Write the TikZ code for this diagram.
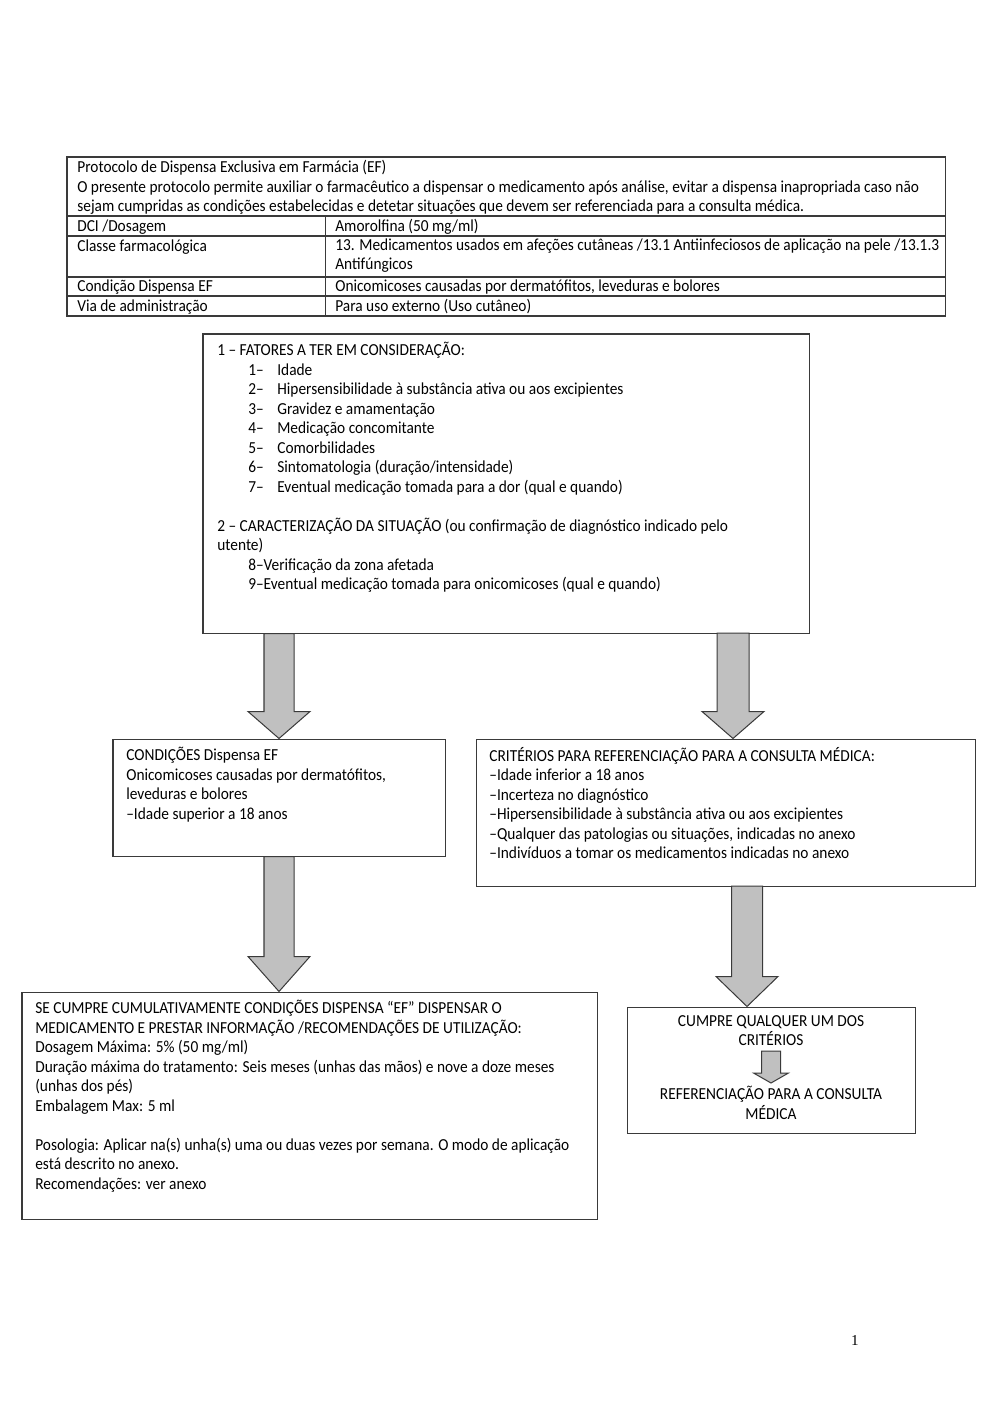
\documentclass[tikz,border=0pt]{standalone}
\usepackage{fontspec}
\setmainfont{Carlito}[FakeStretch=0.915]
\newfontfamily\pgnumfont{Liberation Serif}
\usetikzlibrary{calc,fit}
\definecolor{arrowgray}{HTML}{C0C0C0}
\definecolor{linegray}{HTML}{3A3A3A}

% indented numbered item inside the first box
\newcommand{\itm}[2]{\hspace*{18.4pt}\makebox[17.3pt][l]{#1}#2}
% block arrow: top point, tip point, half shaft, half head, head length
\newcommand{\blkarrow}[5]{%
  \draw[blk] ($(#1)+(-#3,0)$) -- ($(#1 |- #2)+(-#3,-#5)$) -- ($(#1 |- #2)+(-#4,-#5)$)
    -- (#1 |- #2) -- ($(#1 |- #2)+(#4,-#5)$) -- ($(#1 |- #2)+(#3,-#5)$) -- ($(#1)+(#3,0)$) -- cycle;}

\begin{document}
\begin{tikzpicture}[x=0.595pt, y=-0.595pt,
    font=\fontsize{10}{11.6}\selectfont,
    box/.style={draw=linegray, line width=0.6pt, inner sep=0pt},
    txt/.style={anchor=north west, inner sep=0pt, align=left, execute at begin node=\strut},
    ctxt/.style={anchor=north, inner sep=0pt, align=center, execute at begin node=\strut},
    blk/.style={draw=linegray, line width=0.6pt, fill=arrowgray, line join=miter}]
  \useasboundingbox (0,0) rectangle (1000,1415);

  % protocol table
  \node[box, fit={(67,157) (945,316)}] (tbl) {};
  \draw[linegray, line width=0.6pt] (67,216) -- (945,216) (67,236) -- (945,236)
    (67,277) -- (945,277) (67,296) -- (945,296) (325,216) -- (325,316);
  \node[txt] (hd) at (77,160) {Protocolo de Dispensa Exclusiva em Farmácia (EF)\\
    O presente protocolo permite auxiliar o farmacêutico a dispensar o medicamento após análise, evitar a dispensa inapropriada caso não\\
    sejam cumpridas as condições estabelecidas e detetar situações que devem ser referenciada para a consulta médica.};
  \node[txt] (dciA) at (77,218) {DCI /Dosagem};
  \node[txt] (dciB) at (335,218) {Amorolfina (50 mg/ml)};
  \node[txt] (clsA) at (77,238) {Classe farmacológica};
  \node[txt] (clsB) at (335,238) {13. Medicamentos usados em afeções cutâneas /13.1 Antiinfeciosos de aplicação na pele /13.1.3\\Antifúngicos};
  \node[txt] (condA) at (77,278) {Condição Dispensa EF};
  \node[txt] (condB) at (335,278) {Onicomicoses causadas por dermatófitos, leveduras e bolores};
  \node[txt] (viaA) at (77,298) {Via de administração};
  \node[txt] (viaB) at (335,298) {Para uso externo (Uso cutâneo)};

  % flow boxes
  \node[box, fit={(203,334) (809,633)}] (fac) {};
  \node[box, fit={(113,739) (445,856)}] (cond) {};
  \node[box, fit={(476,739) (975,886)}] (crit) {};
  \node[box, fit={(22,992) (597,1219)}] (disp) {};
  \node[box, fit={(627,1007) (915,1133)}] (ref) {};

  \node[txt] (facT) at (217,342) {1 – FATORES A TER EM CONSIDERAÇÃO:\\
    \itm{1–}{Idade}\\
    \itm{2–}{Hipersensibilidade à substância ativa ou aos excipientes}\\
    \itm{3–}{Gravidez e amamentação}\\
    \itm{4–}{Medicação concomitante}\\
    \itm{5–}{Comorbilidades}\\
    \itm{6–}{Sintomatologia (duração/intensidade)}\\
    \itm{7–}{Eventual medicação tomada para a dor (qual e quando)}\\[11.6pt]
    2 – CARACTERIZAÇÃO DA SITUAÇÃO (ou confirmação de diagnóstico indicado pelo\\
    utente)\\
    \hspace*{18.4pt}8–Verificação da zona afetada\\
    \hspace*{18.4pt}9–Eventual medicação tomada para onicomicoses (qual e quando)};
  \node[txt] (condT) at (126,747) {CONDIÇÕES Dispensa EF\\
    Onicomicoses causadas por dermatófitos,\\
    leveduras e bolores\\
    –Idade superior a 18 anos};
  \node[txt] (critT) at (489,747) {CRITÉRIOS PARA REFERENCIAÇÃO PARA A CONSULTA MÉDICA:\\
    –Idade inferior a 18 anos\\
    –Incerteza no diagnóstico\\
    –Hipersensibilidade à substância ativa ou aos excipientes\\
    –Qualquer das patologias ou situações, indicadas no anexo\\
    –Indivíduos a tomar os medicamentos indicadas no anexo};
  \node[txt] (dispT) at (35,1000) {SE CUMPRE CUMULATIVAMENTE CONDIÇÕES DISPENSA “EF” DISPENSAR O\\
    MEDICAMENTO E PRESTAR INFORMAÇÃO /RECOMENDAÇÕES DE UTILIZAÇÃO:\\
    Dosagem Máxima: 5\% (50 mg/ml)\\
    Duração máxima do tratamento: Seis meses (unhas das mãos) e nove a doze meses\\
    (unhas dos pés)\\
    Embalagem Max: 5 ml\\[11.6pt]
    Posologia: Aplicar na(s) unha(s) uma ou duas vezes por semana. O modo de aplicação\\
    está descrito no anexo.\\
    Recomendações: ver anexo};
  \node[ctxt] (refA) at (771,1015) {CUMPRE QUALQUER UM DOS\\CRITÉRIOS};
  \node[ctxt] (refB) at (771,1086) {REFERENCIAÇÃO PARA A CONSULTA\\MÉDICA};

  % block arrows
  \coordinate (xl1) at (fac.south -| cond.north);
  \coordinate (xr1) at (733,633);
  \coordinate (xr2) at (747,886);
  \coordinate (xr3) at (771,1051);
  \coordinate (xr3tip) at (771,1083);
  \blkarrow{xl1}{cond.north}{15}{31}{27}
  \blkarrow{xr1}{crit.north}{16}{31}{27}
  \blkarrow{cond.south}{disp.north}{15}{31}{35}
  \blkarrow{xr2}{ref.north}{15.5}{31}{30}
  \blkarrow{xr3}{xr3tip}{9.5}{17.5}{10}

  \node[inner sep=0pt, font=\pgnumfont\fontsize{9}{10}\selectfont] (pg) at (855,1340) {1};
\end{tikzpicture}
\end{document}
